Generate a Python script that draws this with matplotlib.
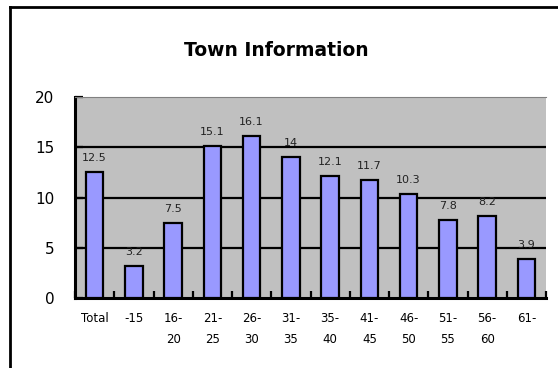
import numpy as np
import matplotlib
matplotlib.use("Agg")
import matplotlib.pyplot as plt
from matplotlib.lines import Line2D

# age groups and values per group
age_groups = ["Total", "-15", "16-\n20", "21-\n25", "26-\n30", "31-\n35",
              "35-\n40", "41-\n45", "46-\n50", "51-\n55", "56-\n60", "61-"]
values = [12.5, 3.2, 7.5, 15.1, 16.1, 14, 12.1, 11.7, 10.3, 7.8, 8.2, 3.9]
y_ticks = [0, 5, 10, 15, 20]

fig = plt.figure(figsize=(5.58, 3.68), dpi=100)
ax = fig.add_axes([75 / 558, 1 - 298 / 368, 471 / 558, 201 / 368])

x = np.arange(len(values))
ax.bar(x, values, width=0.44, color="#9999FF", edgecolor="black", linewidth=1.6, zorder=3)

for xi, v in zip(x, values):
    ax.text(xi, v + 0.9, f"{v:g}", ha="center", va="bottom", fontsize=8, color="#222222")

ax.set_facecolor("#C0C0C0")
ax.set_xlim(-0.5, len(values) - 0.5)
ax.set_ylim(0, 20)
ax.set_yticks(y_ticks)
ax.set_yticklabels([str(t) for t in y_ticks], fontsize=11)
for t in y_ticks[1:-1]:
    ax.axhline(t, color="black", linewidth=1.6, zorder=2)

# category labels sit between boundary ticks
ax.set_xticks(x)
ax.set_xticklabels(age_groups, fontsize=8.5, linespacing=1.8)
ax.tick_params(axis="x", length=0, pad=10)
ax.set_xticks(np.arange(len(values) + 1) - 0.5, minor=True)
ax.tick_params(axis="x", which="minor", direction="in", length=5, width=1.6)
ax.tick_params(axis="y", direction="in", length=6, width=1.6, pad=15)

ax.spines["left"].set_linewidth(2.2)
ax.spines["bottom"].set_linewidth(2.2)
ax.spines["top"].set_color("#808080")
ax.spines["top"].set_linewidth(0.8)
ax.spines["right"].set_visible(False)

fig.text(276 / 558, 1 - 50 / 368, "Town Information", ha="center", va="center",
         fontsize=13.5, fontweight="bold")

# chart frame (left and top edges)
fig.add_artist(Line2D([10 / 558, 10 / 558], [0, 1 - 6.5 / 368], color="black", linewidth=2, transform=fig.transFigure))
fig.add_artist(Line2D([10 / 558, 1], [1 - 6.5 / 368, 1 - 6.5 / 368], color="black", linewidth=2, transform=fig.transFigure))

fig.savefig("out.png", dpi=100)
